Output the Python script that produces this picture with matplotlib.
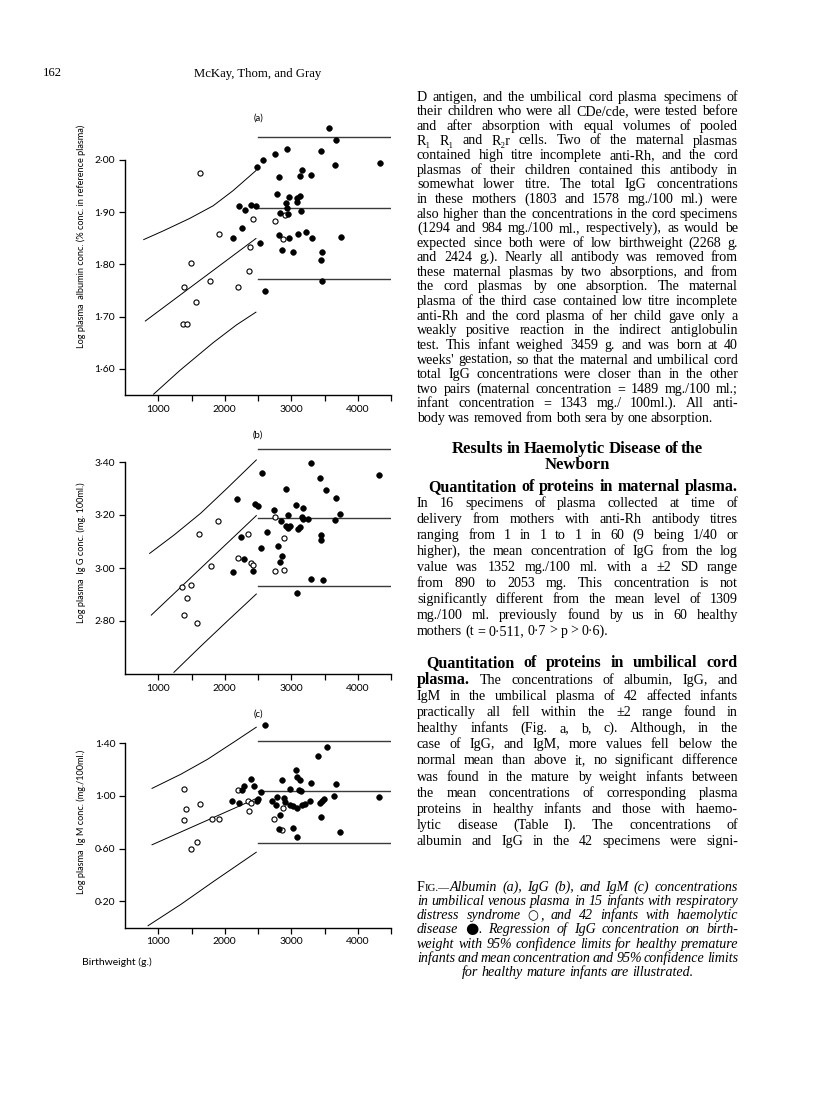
import matplotlib
matplotlib.use("Agg")
import matplotlib.pyplot as plt

W, H = 816, 1102
SERIF = ["Liberation Serif", "DejaVu Serif"]
SANS = ["Lato", "DejaVu Sans"]

# ---------------- data ----------------
weight_ticks = [1000, 1500, 2000, 2500, 3000, 3500, 4000, 4500]
weight_labels = ["1000", "", "2000", "", "3000", "", "4000", ""]

# (a) albumin
alb_hd_wt = [3565, 3675, 2940, 2750, 2580, 2490, 3445, 3665, 4335, 2815, 3165, 3125, 3295, 2790,
             2965, 3085, 3135, 3085, 2915, 2935, 2830, 2955, 3145, 2210, 2300, 2395, 2475, 2265,
             2130, 2525, 2815, 2960, 3095, 3215, 3310, 2860, 3025, 3455, 3450, 3745, 3455, 2610]
alb_hd_val = [2.060, 2.037, 2.020, 2.011, 2.000, 1.987, 2.016, 1.990, 1.994, 1.968, 1.981, 1.969,
              1.971, 1.935, 1.929, 1.926, 1.930, 1.920, 1.918, 1.908, 1.898, 1.896, 1.902, 1.912,
              1.904, 1.913, 1.911, 1.870, 1.850, 1.841, 1.857, 1.850, 1.858, 1.861, 1.850, 1.827,
              1.824, 1.824, 1.808, 1.852, 1.768, 1.749]
alb_rds_wt = [1625, 2430, 2755, 2910, 2870, 1910, 2385, 1490, 1390, 1775, 1570, 2195, 2370, 1375, 1425]
alb_rds_val = [1.974, 1.887, 1.883, 1.894, 1.848, 1.859, 1.833, 1.802, 1.757, 1.769, 1.727, 1.757,
               1.787, 1.685, 1.685]
alb_up_wt = [775, 1075, 1475, 1825, 2125, 2475]
alb_up = [1.847, 1.864, 1.888, 1.912, 1.941, 1.980]
alb_mid_wt = [800, 2475]
alb_mid = [1.691, 1.850]
alb_lo_wt = [925, 1325, 1825, 2175, 2475]
alb_lo = [1.551, 1.597, 1.650, 1.684, 1.709]
alb_mature = [2.043, 1.907, 1.771]

# (b) IgG
igg_hd_wt = [3290, 2555, 3435, 4315, 2925, 3530, 3680, 2190, 2450, 2495, 3065, 2735, 3180, 2945,
             3735, 2840, 3155, 3180, 3250, 3655, 2925, 2980, 2945, 3105, 3125, 2630, 2245, 3450,
             3450, 2540, 2805, 2855, 2835, 2295, 2130, 2420, 3295, 3480, 3090]
igg_hd_val = [3.396, 3.357, 3.340, 3.352, 3.297, 3.294, 3.264, 3.259, 3.242, 3.235, 3.236, 3.218,
              3.226, 3.200, 3.205, 3.177, 3.192, 3.186, 3.184, 3.181, 3.160, 3.158, 3.151, 3.148,
              3.153, 3.136, 3.118, 3.126, 3.106, 3.075, 3.084, 3.045, 3.024, 3.033, 2.985, 2.989,
              2.960, 2.956, 2.907]
igg_rds_wt = [1905, 1620, 2355, 1795, 2200, 2390, 2420, 1355, 1495, 1425, 1390, 1580, 2750, 2890,
              2750, 2885]
igg_rds_val = [3.179, 3.128, 3.128, 3.006, 3.036, 3.019, 3.010, 2.928, 2.935, 2.888, 2.821, 2.792,
               3.191, 3.114, 2.989, 2.991]
igg_up_wt = [865, 1240, 1640, 2040, 2480]
igg_up = [3.054, 3.125, 3.207, 3.302, 3.409]
igg_mid_wt = [890, 2480]
igg_mid = [2.821, 3.199]
igg_lo_wt = [1230, 1640, 2040, 2480]
igg_lo = [2.605, 2.705, 2.800, 2.903]
igg_mature = [3.450, 3.190, 2.931]

# (c) IgM
igm_hd_wt = [2605, 3545, 3400, 3075, 3090, 2860, 3130, 3295, 3675, 2395, 2295, 2255, 2445, 2540,
             2110, 2210, 2485, 2505, 2975, 3115, 3140, 2715, 2785, 2885, 2910, 2980, 3025, 3090,
             3155, 3205, 3280, 3460, 3485, 3430, 3650, 2765, 2830, 2810, 3020, 3080, 3440, 3735, 4315]
igm_hd_val = [1.539, 1.372, 1.306, 1.197, 1.144, 1.124, 1.122, 1.096, 1.091, 1.127, 1.076, 1.046,
              1.076, 1.033, 0.962, 0.944, 0.965, 0.980, 1.056, 1.046, 1.035, 0.965, 0.992, 0.982,
              0.954, 0.934, 0.924, 0.909, 0.932, 0.939, 0.959, 0.962, 0.975, 0.944, 1.000, 0.932,
              0.858, 0.752, 0.757, 0.691, 0.841, 0.724, 0.995]
igm_rds_wt = [1390, 1420, 1625, 1385, 1810, 1910, 1490, 1585, 2195, 2350, 2390, 2365, 2740, 2860, 2880]
igm_rds_val = [1.051, 0.899, 0.942, 0.820, 0.823, 0.823, 0.600, 0.653, 1.043, 0.962, 0.944, 0.886,
               0.823, 0.739, 0.906]
igm_up_wt = [900, 1340, 1740, 2140, 2480]
igm_up = [1.056, 1.165, 1.278, 1.410, 1.524]
igm_mid_wt = [900, 2480]
igm_mid = [0.628, 0.982]
igm_lo_wt = [840, 1340, 1840, 2480]
igm_lo = [0.013, 0.177, 0.354, 0.575]
igm_mature = [1.420, 1.038, 0.641]

panels = [
    dict(box=(125, 118, 391, 395), ylim=(1.55, 2.08), letter="(a)",
         yticks=[1.6, 1.7, 1.8, 1.9, 2.0], ylabels=["1·60", "1·70", "1·80", "1·90", "2·00"],
         title="Log plasma  albumin conc. (% conc. in reference plasma)", ymid=236,
         hd=(alb_hd_wt, alb_hd_val), rds=(alb_rds_wt, alb_rds_val),
         curves=[(alb_up_wt, alb_up), (alb_mid_wt, alb_mid), (alb_lo_wt, alb_lo)], mature=alb_mature),
    dict(box=(125, 435.5, 391, 674), ylim=(2.60, 3.50), letter="(b)",
         yticks=[2.8, 3.0, 3.2, 3.4], ylabels=["2·80", "3·00", "3·20", "3·40"],
         title="Log plasma  Ig G conc. (mg. 100ml.)", ymid=553,
         hd=(igg_hd_wt, igg_hd_val), rds=(igg_rds_wt, igg_rds_val),
         curves=[(igg_up_wt, igg_up), (igg_mid_wt, igg_mid), (igg_lo_wt, igg_lo)], mature=igg_mature),
    dict(box=(125, 714.3, 391, 927.7), ylim=(0.0, 1.62), letter="(c)",
         yticks=[0.2, 0.6, 1.0, 1.4], ylabels=["0·20", "0·60", "1·00", "1·40"],
         title="Log plasma  Ig M conc. (mg./100ml.)", ymid=822,
         hd=(igm_hd_wt, igm_hd_val), rds=(igm_rds_wt, igm_rds_val),
         curves=[(igm_up_wt, igm_up), (igm_mid_wt, igm_mid), (igm_lo_wt, igm_lo)], mature=igm_mature),
]

para1 = [
    "D antigen, and the umbilical cord plasma specimens of",
    "their children who were all CDe/cde, were tested before",
    "and after absorption with equal volumes of pooled",
    "R₁ R₁ and R₂r cells.  Two of the maternal plasmas",
    "contained high titre incomplete anti-Rh, and the cord",
    "plasmas of their children contained this antibody in",
    "somewhat lower titre.  The total IgG concentrations",
    "in these mothers (1803 and 1578 mg./100 ml.) were",
    "also higher than the concentrations in the cord specimens",
    "(1294 and 984 mg./100 ml., respectively), as would be",
    "expected since both were of low birthweight (2268 g.",
    "and 2424 g.).  Nearly all antibody was removed from",
    "these maternal plasmas by two absorptions, and from",
    "the cord plasmas by one absorption.  The maternal",
    "plasma of the third case contained low titre incomplete",
    "anti-Rh and the cord plasma of her child gave only a",
    "weakly positive reaction in the indirect antiglobulin",
    "test.  This infant weighed 3459 g. and was born at 40",
    "weeks' gestation, so that the maternal and umbilical cord",
    "total IgG concentrations were closer than in the other",
    "two pairs (maternal concentration = 1489 mg./100 ml.;",
    "infant concentration = 1343 mg./ 100ml.).  All anti-",
    "body was removed from both sera by one absorption.",
]
heading = ["Results in Haemolytic Disease of the", "Newborn"]
para2_head = "Quantitation of proteins in maternal plasma."
para2 = [
    "In 16 specimens of plasma collected at time of",
    "delivery from mothers with anti-Rh antibody titres",
    "ranging from 1 in 1 to 1 in 60 (9 being 1/40 or",
    "higher), the mean concentration of IgG from the log",
    "value was 1352 mg./100 ml. with a ±2 SD range",
    "from 890 to 2053 mg.  This concentration is not",
    "significantly different from the mean level of 1309",
    "mg./100 ml. previously found by us in 60 healthy",
    "mothers (t = 0·511, 0·7 > p > 0·6).",
]
para3_head = "Quantitation of proteins in umbilical cord"
para3_head2 = "plasma."
para3 = [
    "The concentrations of albumin, IgG, and",
    "IgM in the umbilical plasma of 42 affected infants",
    "practically all fell within the ±2 range found in",
    "healthy infants (Fig. a, b, c).  Although, in the",
    "case of IgG, and IgM, more values fell below the",
    "normal mean than above it, no significant difference",
    "was found in the mature by weight infants between",
    "the mean concentrations of corresponding plasma",
    "proteins in healthy infants and those with haemo-",
    "lytic disease (Table I).  The concentrations of",
    "albumin and IgG in the 42 specimens were signi-",
]
caption = [
    "Albumin (a), IgG (b), and IgM (c) concentrations",
    "in umbilical venous plasma in 15 infants with respiratory",
    "distress syndrome ",
    ", and 42 infants with  haemolytic",
    "disease ",
    ".  Regression of IgG concentration on birth-",
    "weight with 95% confidence limits for healthy premature",
    "infants and mean concentration and 95% confidence limits",
    "for healthy mature infants are illustrated.",
]

# ---------------- figure ----------------
plt.rcParams["font.family"] = SANS
fig = plt.figure(figsize=(W / 100, H / 100), dpi=100)
fig.patch.set_facecolor("white")

for p in panels:
    l, t, r, b = p["box"]
    ax = fig.add_axes([l / W, 1 - b / H, (r - l) / W, (b - t) / H])
    ax.set_facecolor("none")
    ax.set_xlim(500, 4500)
    ax.set_ylim(*p["ylim"])
    for s in ("top", "right"):
        ax.spines[s].set_visible(False)
    ax.spines["left"].set_bounds(p["ylim"][0], p["yticks"][-1])
    ax.spines["left"].set_linewidth(1.0)
    ax.spines["bottom"].set_linewidth(1.0)
    ax.set_xticks(weight_ticks)
    ax.set_xticklabels(weight_labels)
    ax.set_yticks(p["yticks"])
    ax.set_yticklabels(p["ylabels"])
    ax.tick_params(direction="out", length=4, width=0.9, labelsize=7.5, pad=3)

    for cx, cy in p["curves"]:
        ax.plot(cx, cy, color="black", lw=0.7, solid_capstyle="butt")
    for lev in p["mature"]:
        ax.plot([2500, 4500], [lev, lev], color="#3a3a3a", lw=1.0)

    ax.plot(p["rds"][0], p["rds"][1], "o", ms=3.7, mfc="white", mec="black", mew=0.8, clip_on=False)
    ax.plot(p["hd"][0], p["hd"][1], "o", ms=4.1, mfc="black", mec="black", mew=0.4, clip_on=False)

    ax.text(2500, p["ylim"][1], p["letter"], fontsize=6.8, ha="center", va="center")
    fig.text(81.7 / W, 1 - p["ymid"] / H, p["title"], rotation=90, fontsize=6.6,
             ha="center", va="center")

fig.text(82 / W, 1 - 962 / H, "Birthweight (g.)", fontsize=7.5, ha="left", va="center")

# header
fig.text(43 / W, 1 - 76.5 / H, "162", family=SERIF, fontsize=9.2, va="baseline")
fig.text(257.5 / W, 1 - 76.5 / H, "McKay, Thom, and Gray", family=SERIF, fontsize=9.2,
         ha="center", va="baseline")

# ---------------- text column ----------------
renderer = fig.canvas.get_renderer()
body = dict(family=SERIF, size=10.1)
bold = dict(family=SERIF, size=11.5, weight="bold")
head = dict(family=SERIF, size=12, weight="bold")
ital = dict(family=SERIF, size=10.1, style="italic")
upr = dict(family=SERIF, size=10.1)
small = dict(family=SERIF, size=7.8)
sym = dict(family=["DejaVu Sans"], size=9, pad=1.5)
bigsym = dict(family=["DejaVu Sans"], size=11, pad=0.5)
X0, X1 = 417, 738


def to_words(chunks):
    words = []
    glue = False
    for text, st in chunks:
        for i, part in enumerate(text.split(" ")):
            if part == "":
                glue = False
                continue
            if i == 0 and glue and words:
                words[-1].append((part, st))
            else:
                words.append([(part, st)])
            glue = True
    return words


def clean(st, scale):
    d = {k: v for k, v in st.items() if k != "pad"}
    d["size"] = st["size"] * scale
    return d


def width(txt, st, scale=1.0):
    t = fig.text(0, 0, txt, **clean(st, scale))
    w = t.get_window_extent(renderer).width
    t.remove()
    return w + st.get("pad", 0)


def put_line(y, chunks, x0=X0, x1=X1, mode="justify", space=3.3):
    words = to_words(chunks)
    n = len(words)
    scale = 1.0
    for _ in range(4):
        ws = [sum(width(txt, st, scale) for txt, st in w) for w in words]
        if mode != "justify" or n < 2:
            break
        gap = (x1 - x0 - sum(ws)) / (n - 1)
        if gap >= 1.8:
            break
        scale *= (x1 - x0 - 1.8 * (n - 1)) / sum(ws)
    if mode == "justify" and n > 1:
        x = x0
    else:
        gap = space
        lw = sum(ws) + gap * (n - 1)
        x = x0 if mode == "left" else (x0 + x1 - lw) / 2
    for w, ww in zip(words, ws):
        xx = x
        for txt, st in w:
            fig.text(xx / W, 1 - (y + 3.4) / H, txt, ha="left", va="baseline", **clean(st, scale))
            xx += width(txt, st, scale)
        x += ww + gap


for i, line in enumerate(para1):
    put_line(97.3 + 14.6 * i, [(line, body)], mode="left" if i == len(para1) - 1 else "justify")

put_line(450, [(heading[0], head)], mode="center")
put_line(466, [(heading[1], head)], mode="center")

put_line(487.3, [(para2_head, bold)], x0=428)
for i, line in enumerate(para2):
    put_line(503.3 + 16 * i, [(line, body)], mode="left" if i == len(para2) - 1 else "justify")

put_line(664, [(para3_head, bold)], x0=426)
put_line(680.2, [(para3_head2 + "  ", bold), (para3[0], body)])
for i, line in enumerate(para3[1:]):
    put_line(696.4 + 16.15 * i, [(line, body)])

cap_y = [887.5, 901.7, 916, 930, 944.3, 958.6, 973]
put_line(cap_y[0], [("F", upr), ("IG.—", small), (caption[0], ital)])
put_line(cap_y[1], [(caption[1], ital)])
put_line(cap_y[2], [(caption[2], ital), ("○", sym), (caption[3], ital)])
put_line(cap_y[3], [(caption[4], ital), ("●", bigsym), (caption[5], ital)])
put_line(cap_y[4], [(caption[6], ital)])
put_line(cap_y[5], [(caption[7], ital)])
put_line(cap_y[6], [(caption[8], ital)], mode="center")

fig.savefig("out.png", dpi=100, facecolor="white")
